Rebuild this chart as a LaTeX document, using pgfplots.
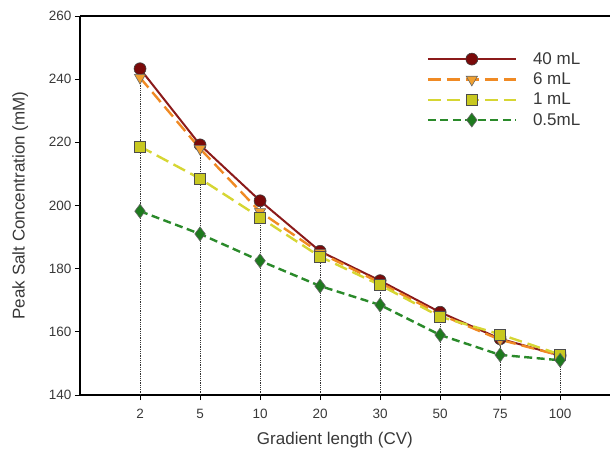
\documentclass[border=0pt]{standalone}
\usepackage{pgfplots}
\pgfplotsset{compat=1.18}
\usepackage{fontspec}
\setmainfont{Liberation Sans}
\definecolor{cred}{HTML}{8B1A1A}
\definecolor{credf}{HTML}{7A0A0A}
\definecolor{corange}{HTML}{F08A24}
\definecolor{corangef}{HTML}{F0A030}
\definecolor{cyellow}{HTML}{D6D633}
\definecolor{cyellowf}{HTML}{C8C820}
\definecolor{cgreen}{HTML}{2A8A2A}
\definecolor{cgreenf}{HTML}{1E7A1E}
\definecolor{ctext}{HTML}{383838}
\begin{document}
\begin{tikzpicture}
\begin{axis}[
  scale only axis,
  width=530pt, height=379pt,
  xmin=-1, xmax=7.83,
  ymin=140, ymax=260,
  axis x line=box,
  axis y line=left,
  axis line style={line width=1.8pt, -},
  xtick={0,1,2,3,4,5,6,7},
  xticklabels={2,5,10,20,30,50,75,100},
  xtick pos=bottom,
  ytick={140,160,180,200,220,240,260},
  tick align=outside,
  major tick length=5pt,
  tick style={line width=0.9pt, black},
  /pgf/number format/assume math mode=true,
  ticklabel style={font=\fontsize{13.5}{15}\selectfont, text=ctext},
  xticklabel style={yshift=-6pt},
  label style={font=\fontsize{17}{20}\selectfont, text=ctext},
  xlabel={Gradient length (CV)},
  ylabel={Peak Salt Concentration (mM)},
  xlabel style={at={(axis description cs:0.481,-0.119)}, anchor=center},
  ylabel style={at={(axis description cs:-0.113,0.5)}, anchor=center},
  clip=false,
  legend style={draw=none, fill=none, at={(axis description cs:0.648,0.915)}, anchor=north west,
    font=\fontsize{17}{19}\selectfont, text=ctext, row sep=3pt,
    /tikz/every even column/.append style={column sep=0pt}},
  legend cell align=left,
  legend image code/.code={\draw[mark repeat=2,mark phase=2,#1] plot coordinates {(0pt,0pt) (44pt,0pt) (88pt,0pt)};},
]
% drop lines
\addplot[ycomb, densely dotted, black!80, line width=0.8pt, mark=none, forget plot]
  coordinates {(0,243.3) (1,219.2) (2,201.5) (3,185.5) (4,176.2) (5,166.2) (6,159.5) (7,153)};
\addplot[cred, line width=2pt, mark=*, mark size=6pt, mark options={solid, fill=credf, draw=black!75, line width=0.6pt}]
  coordinates {(0,243.3) (1,219.2) (2,201.5) (3,185.5) (4,176.2) (5,166.2) (6,157.8) (7,152.5)};
\addlegendentry{\hspace{14pt}40 mL}
\addplot[corange, line width=2.4pt, dash pattern=on 13pt off 6pt, mark=triangle*, mark size=6.5pt, mark options={solid, rotate=180, fill=corangef, draw=black!60, line width=0.6pt}]
  coordinates {(0,240.5) (1,218) (2,198) (3,185) (4,175.5) (5,165.5) (6,157.5) (7,152.5)};
\addlegendentry{\hspace{14pt}6 mL}
\addplot[cyellow, line width=2.4pt, dash pattern=on 13pt off 6pt, mark=square*, mark size=5.5pt, mark options={solid, fill=cyellowf, draw=black!70, line width=0.6pt}]
  coordinates {(0,218.7) (1,208.5) (2,196.2) (3,183.8) (4,174.8) (5,164.8) (6,159.2) (7,152.8)};
\addlegendentry{\hspace{14pt}1 mL}
\addplot[cgreen, line width=2.4pt, dash pattern=on 8pt off 4.5pt, mark=diamond*, mark size=7pt, mark options={solid, fill=cgreenf, draw=black!60, line width=0.6pt}]
  coordinates {(0,198.2) (1,191) (2,182.5) (3,174.5) (4,168.5) (5,159) (6,152.7) (7,151)};
\addlegendentry{\hspace{14pt}0.5mL}
\end{axis}
\pgfresetboundingbox
\path[use as bounding box] (-80pt,-64pt) rectangle (531pt,395pt);
\end{tikzpicture}
\end{document}
